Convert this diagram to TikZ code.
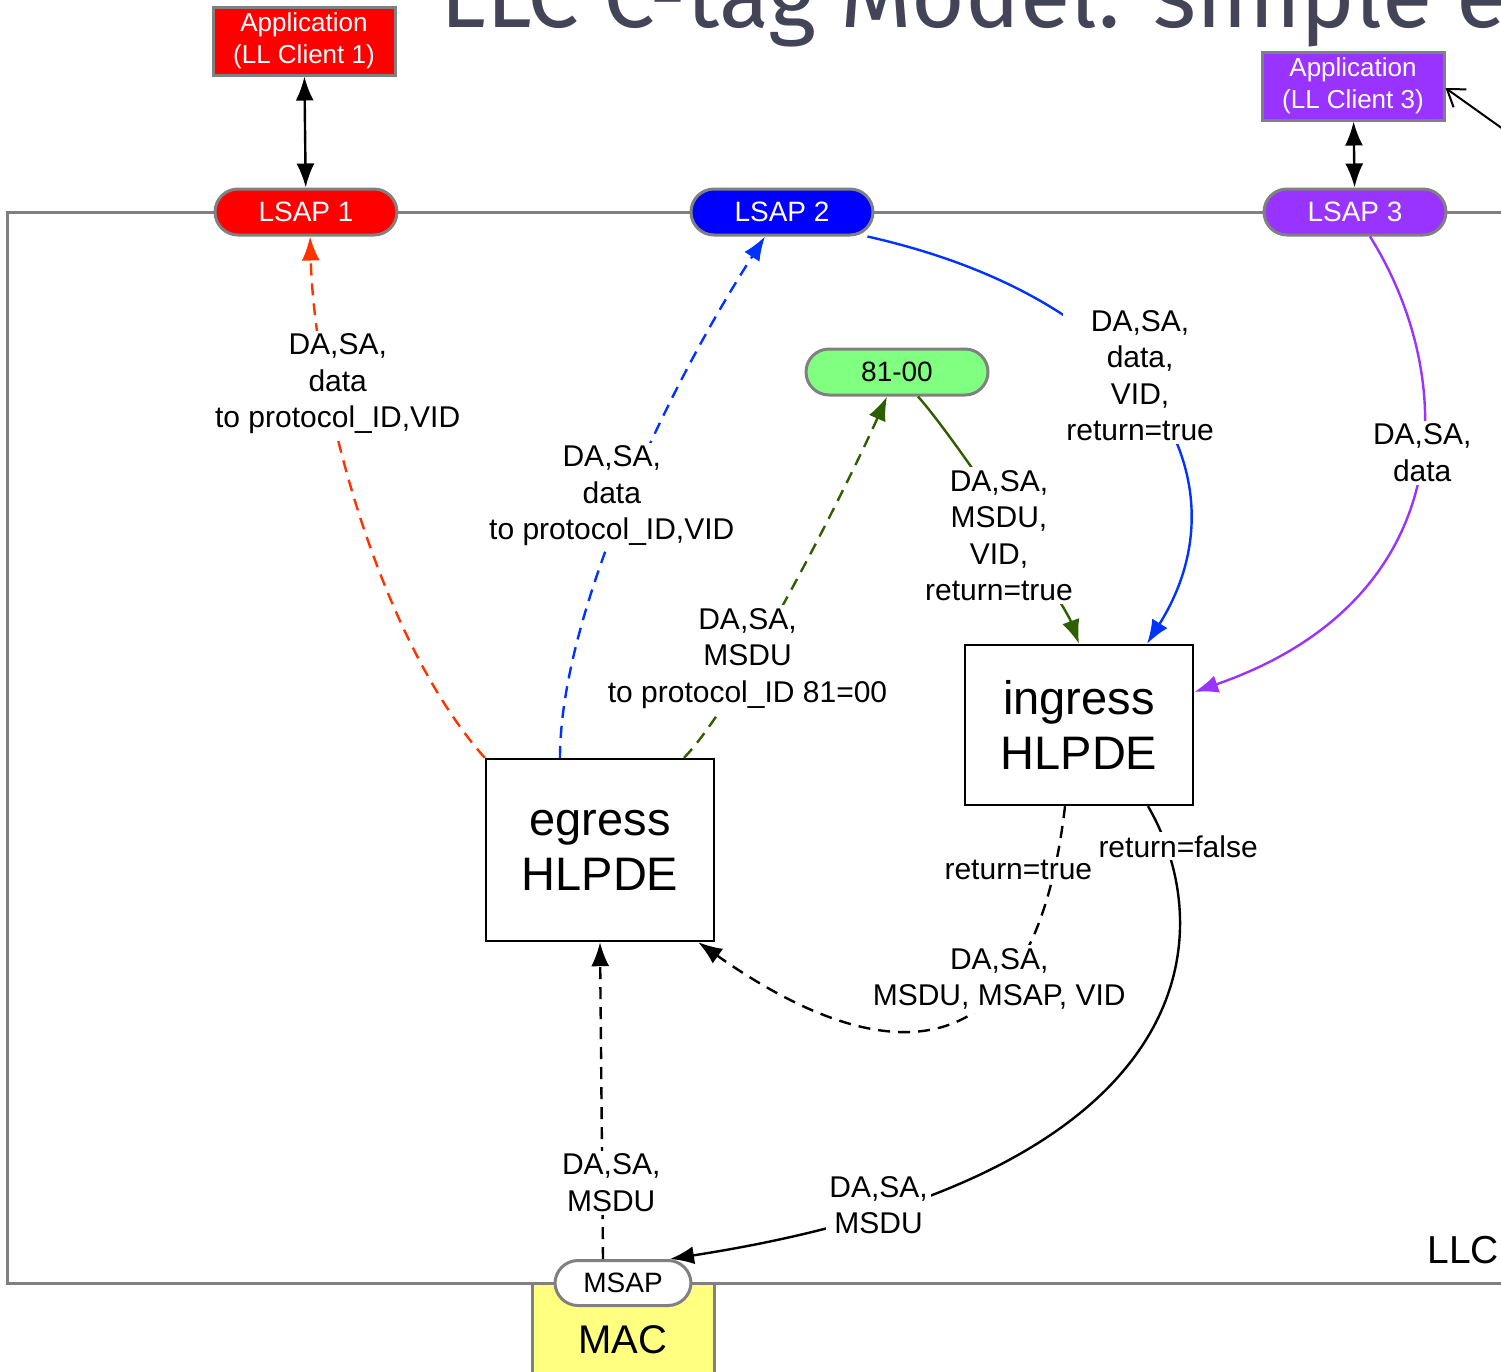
\documentclass[tikz,border=0pt]{standalone}
\usepackage{fontspec}
\setmainfont{Liberation Sans}
\newfontfamily\titlefont{Fira Sans}
\usepackage{tikz}
\usetikzlibrary{arrows.meta}

\definecolor{appred}{RGB}{255,0,0}
\definecolor{dashred}{RGB}{255,51,0}
\definecolor{sapblue}{RGB}{0,0,255}
\definecolor{lineblue}{RGB}{0,51,255}
\definecolor{clpurple}{RGB}{153,51,255}
\definecolor{tagfill}{RGB}{128,255,128}
\definecolor{tagline}{RGB}{45,95,0}
\definecolor{macfill}{RGB}{255,255,128}
\definecolor{edge}{RGB}{128,128,128}
\definecolor{titlegray}{RGB}{68,68,88}

\begin{document}
\begin{tikzpicture}[x=0.5pt, y=-0.5pt,
		>={Latex[length=12pt,width=9pt]},
		app/.style={rectangle, draw=edge, line width=1.5pt, text=white, align=center, minimum width=91pt, minimum height=34pt, inner sep=0pt, font=\fontsize{13}{16}\selectfont},
		sap/.style={rectangle, rounded corners=11.5pt, draw=edge, line width=1.5pt, minimum width=91pt, minimum height=23pt, inner sep=0pt, font=\fontsize{14}{17}\selectfont},
		hlpde/.style={rectangle, draw, line width=1.2pt, fill=white, align=center, minimum width=114pt, inner sep=0pt, font=\fontsize{23.5}{27.5}\selectfont},
		lbl/.style={fill=white, text=black, align=center, inner sep=1.5pt, font=\fontsize{15}{18.25}\selectfont},
		flow/.style={line width=1.2pt},
		dashline/.style={dash pattern=on 6pt off 4pt}]
		\useasboundingbox (0,0) rectangle (1501,1372);
		\clip (0,0) rectangle (1501,1372);
		% title, LLC frame and MAC
		\node[anchor=base west, inner sep=0pt, text=titlegray, font=\titlefont\fontsize{46}{46}\selectfont] (title) at (440,27) {LLC C-tag Model: simple e};
		\draw[edge, line width=1.5pt] (1560,212) -- (7,212) -- (7,1283) -- (1560,1283);
		\node[anchor=base west, inner sep=0pt, font=\fontsize{19.5}{24}\selectfont] (llc) at (1427,1263) {LLC};
		\node[rectangle, draw=edge, line width=1.5pt, fill=macfill, minimum width=91pt, minimum height=57pt, inner sep=0pt, font=\fontsize{20}{24}\selectfont] (mac) at (623,1340) {MAC};
		% clients, SAPs and the two HLPDEs
		\path (304,41) node[app, fill=appred](app1){Application\\(LL Client 1)}
		(1353,86) node[app, fill=clpurple](app3){Application\\(LL Client 3)}
		(306,212) node[sap, fill=appred, text=white](lsap1){LSAP 1}
		(782,212) node[sap, fill=sapblue, text=white](lsap2){LSAP 2}
		(1355,212) node[sap, fill=clpurple, text=white](lsap3){LSAP 3}
		(897,372) node[sap, fill=tagfill, font=\fontsize{14}{17}\selectfont](tag){81-00}
		(623,1283) node[sap, fill=white, minimum width=68pt, minimum height=22.5pt, font=\fontsize{14}{17}\selectfont](msap){MSAP}
		(600,850) node[hlpde, minimum height=91pt](egress){egress\\HLPDE}
		(1079,725) node[hlpde, minimum height=80pt](ingress){ingress\\HLPDE};
		\coordinate (ext) at (1510,134);
		
		\draw [<->, flow](app1) -- (lsap1);
		\draw [<->, flow](app3) -- (lsap3);
		\draw [-{Straight Barb[length=8pt,width=11pt]}, line width=1pt](ext) -- ([yshift=-1pt]app3.east);
		% egress HLPDE up to the LSAPs and 81-00
		\draw [->, flow, dashline, dashred](egress.north west) .. controls (380,640) and (315,400) .. node[lbl, pos=0.74, xshift=6pt, yshift=-4pt] {DA,SA,\\data\\to protocol\_ID,VID} ([xshift=2pt]lsap1.south);
		\draw [->, flow, dashline, lineblue]([xshift=-20pt]egress.north) .. controls (560,620) and (660,400) .. node[lbl, pos=0.52, xshift=-8pt] {DA,SA,\\data\\to protocol\_ID,VID} ([xshift=-8.5pt]lsap2.south);
		\draw [->, flow, dashline, tagline]([xshift=42pt]egress.north) .. controls (740,700) and (850,480) .. node[lbl, pos=0.33, xshift=-2.5pt] {DA,SA,\\MSDU\\to protocol\_ID 81=00} ([xshift=-5pt]tag.south);
		% into the ingress HLPDE
		\draw [->, flow, tagline]([xshift=10.5pt]tag.south) .. controls (960,444) and (1065,605) .. node[lbl, pos=0.5, xshift=-5pt, yshift=-6pt] {DA,SA,\\MSDU,\\VID,\\return=true} (ingress.north);
		\draw [->, flow, lineblue](lsap2.-16) .. controls (1150,300) and (1250,480) .. node[lbl, pos=0.45, xshift=2pt, yshift=2.5pt] {DA,SA,\\data,\\VID,\\return=true} ([xshift=34pt]ingress.north);
		\draw [->, flow, clpurple]([xshift=7.5pt]lsap3.south) .. controls (1460,380) and (1460,600) .. node[lbl, pos=0.43, yshift=-2.5pt] {DA,SA,\\data} ([yshift=16.5pt]ingress.east);
		% out of the ingress HLPDE
		\draw [->, flow, dashline]([xshift=-7pt]ingress.south) .. controls (1030,1110) and (851,1050) .. node[lbl, pos=0.1, xshift=-16pt, yshift=8.5pt] {return=true} node[lbl, pos=0.3, yshift=5.5pt] {DA,SA,\\MSDU, MSAP, VID} ([xshift=-8.5pt]egress.south east);
		\draw [->, flow]([xshift=34.5pt]ingress.south) .. controls (1220,930) and (1210,1175) .. node[lbl, pos=0.09, xshift=6.5pt, yshift=-2pt] {return=false} node[lbl, pos=0.845, xshift=-3pt, yshift=2pt] {DA,SA,\\MSDU} ([xshift=23.5pt]msap.north);
		\draw [->, flow, dashline]([xshift=-10pt]msap.north) -- node[lbl, pos=0.25, xshift=4.5pt, yshift=-1.5pt] {DA,SA,\\MSDU} (egress.south);
		
	\end{tikzpicture}
\end{document}
